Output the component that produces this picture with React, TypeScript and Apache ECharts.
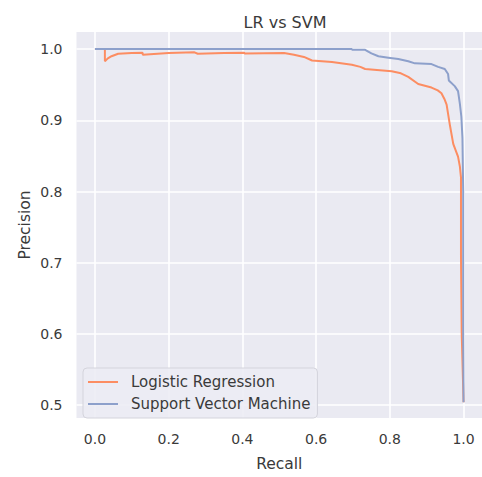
import React, { useEffect, useRef } from "react";
import * as echarts from "echarts";

const titleText = "LR vs SVM";
const xName = "Recall";
const yName = "Precision";
const seriesNames = ["Logistic Regression", "Support Vector Machine"];
const xTicks = [0, 0.2, 0.4, 0.6, 0.8, 1.0];
const yTicks = [0.5, 0.6, 0.7, 0.8, 0.9, 1.0];

const lrRecall = [0, 0.027, 0.027, 0.035, 0.045, 0.063, 0.1, 0.129, 0.13, 0.2, 0.27, 0.279, 0.35, 0.405, 0.406, 0.513, 0.54, 0.567, 0.589, 0.643, 0.697, 0.72, 0.733, 0.805, 0.83, 0.85, 0.877, 0.913, 0.93, 0.94, 0.948, 0.954, 0.963, 0.972, 0.985, 0.99, 0.993, 0.993, 0.995, 1.0];
const lrPrecision = [1.0, 1.0, 0.983, 0.987, 0.99, 0.9935, 0.9945, 0.9948, 0.992, 0.9945, 0.9955, 0.9935, 0.9945, 0.9948, 0.9938, 0.9945, 0.992, 0.989, 0.984, 0.982, 0.978, 0.975, 0.972, 0.969, 0.966, 0.961, 0.951, 0.946, 0.942, 0.938, 0.93, 0.922, 0.893, 0.867, 0.849, 0.835, 0.82, 0.71, 0.6, 0.504];

const svmRecall = [0, 0.697, 0.698, 0.733, 0.75, 0.769, 0.796, 0.823, 0.85, 0.868, 0.913, 0.931, 0.949, 0.958, 0.96, 0.976, 0.985, 0.99, 0.994, 0.997, 0.999, 0.999, 1.0];
const svmPrecision = [1.0, 1.0, 0.999, 0.999, 0.994, 0.99, 0.988, 0.986, 0.983, 0.98, 0.979, 0.975, 0.972, 0.965, 0.956, 0.948, 0.941, 0.923, 0.905, 0.875, 0.8, 0.6, 0.504];

const FONT = "'DejaVu Sans', sans-serif";
const TXT = "#3a3a3a";

export default function App() {
  const ref = useRef<HTMLDivElement>(null);
  useEffect(() => {
    document.body.style.margin = "0";
    const chart = echarts.init(ref.current!, null, { renderer: "svg" });
    const lrData = lrRecall.map((r, i) => [r, lrPrecision[i]]);
    const svmData = svmRecall.map((r, i) => [r, svmPrecision[i]]);
    chart.setOption({
      animation: false,
      backgroundColor: "#ffffff",
      textStyle: { fontFamily: FONT },
      title: {
        text: titleText,
        left: 280,
        top: 9,
        textAlign: "center",
        textStyle: { fontFamily: FONT, fontSize: 16, fontWeight: "normal", color: TXT },
      },
      grid: {
        left: 76.5,
        top: 32,
        width: 407.6,
        height: 392,
        show: true,
        backgroundColor: "#eaeaf2",
        borderWidth: 0,
      },
      legend: {
        orient: "vertical",
        left: 83,
        top: 368,
        padding: [6, 7, 6, 5],
        itemGap: 6,
        itemWidth: 30,
        itemHeight: 2,
        icon: "rect",
        backgroundColor: "rgba(236,236,244,0.9)",
        borderColor: "#d4d4dc",
        borderWidth: 1,
        borderRadius: 4,
        textStyle: { fontFamily: FONT, fontSize: 15, color: TXT, lineHeight: 16, padding: [0, 0, 0, 8] },
        data: seriesNames,
      },
      xAxis: {
        type: "value",
        min: -0.05,
        max: 1.05,
        name: xName,
        nameLocation: "middle",
        nameGap: 38,
        nameMoveOverlap: false,
        nameTextStyle: { fontFamily: FONT, fontSize: 15.5, color: TXT },
        axisLine: { show: false },
        axisTick: { show: false, customValues: xTicks },
        axisLabel: {
          customValues: xTicks,
          margin: 14,
          fontFamily: FONT,
          fontSize: 14,
          color: TXT,
          formatter: (v: number) => v.toFixed(1),
        },
        splitLine: { show: true, lineStyle: { color: "#ffffff", width: 1.6 } },
      },
      yAxis: {
        type: "value",
        min: 0.482,
        max: 1.024,
        name: yName,
        nameLocation: "middle",
        nameGap: 44,
        nameMoveOverlap: false,
        nameTextStyle: { fontFamily: FONT, fontSize: 15.5, color: TXT },
        axisLine: { show: false },
        axisTick: { show: false, customValues: yTicks },
        axisLabel: {
          customValues: yTicks,
          margin: 14,
          fontFamily: FONT,
          fontSize: 14,
          color: TXT,
          formatter: (v: number) => v.toFixed(1),
        },
        splitLine: { show: true, lineStyle: { color: "#ffffff", width: 1.6 } },
      },
      series: [
        {
          name: seriesNames[0],
          type: "line",
          data: lrData,
          showSymbol: false,
          symbol: "none",
          color: "#fc8d62",
          lineStyle: { color: "#fc8d62", width: 2 },
        },
        {
          name: seriesNames[1],
          type: "line",
          data: svmData,
          showSymbol: false,
          symbol: "none",
          color: "#8da0cb",
          lineStyle: { color: "#8da0cb", width: 2 },
        },
      ],
    });
    return () => chart.dispose();
  }, []);
  return <div ref={ref} style={{ width: 482, height: 477 }} />;
}
